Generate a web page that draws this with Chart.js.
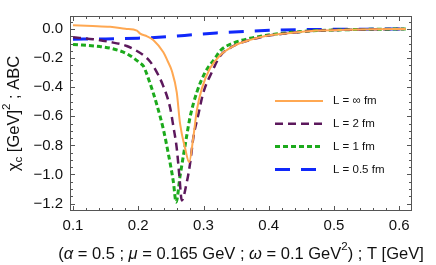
<!DOCTYPE html>
<html>
<head>
<meta charset="utf-8">
<script src="https://cdn.jsdelivr.net/npm/chart.js@4/dist/chart.umd.min.js"></script>
<style>
  html, body { margin: 0; padding: 0; background: #fff; }
</style>
</head>
<body>
<canvas id="chiChart" width="436" height="265"></canvas>
<script>
// series labels
var seriesLabels = ['L = \u221e fm', 'L = 2 fm', 'L = 1 fm', 'L = 0.5 fm'];

// L = infinity
var tInf   = [0.100, 0.130, 0.157, 0.180, 0.198, 0.203, 0.2135, 0.223, 0.2385, 0.245, 0.2514, 0.259, 0.264, 0.2718, 0.278, 0.2845, 0.2897, 0.2974, 0.310, 0.3255, 0.346, 0.3715, 0.397, 0.428, 0.474, 0.520, 0.560, 0.610];
var chiInf = [0.026, 0.021, 0.015, 0.002, -0.011, -0.032, -0.050, -0.075, -0.160, -0.220, -0.287, -0.436, -0.649, -0.820, -0.915, -0.740, -0.560, -0.410, -0.270, -0.180, -0.117, -0.075, -0.047, -0.030, -0.011, -0.005, -0.002, 0.000];

// L = 2 fm
var tL2   = [0.100, 0.131, 0.155, 0.1824, 0.2078, 0.218, 0.2258, 0.2385, 0.2488, 0.2538, 0.259, 0.263, 0.2667, 0.2744, 0.2794, 0.2845, 0.2922, 0.2998, 0.3127, 0.3255, 0.346, 0.3715, 0.397, 0.428, 0.474, 0.520, 0.560, 0.610];
var chiL2 = [-0.057, -0.070, -0.088, -0.117, -0.180, -0.223, -0.276, -0.394, -0.540, -0.670, -0.820, -1.010, -1.178, -1.053, -0.925, -0.745, -0.585, -0.436, -0.298, -0.185, -0.117, -0.075, -0.047, -0.030, -0.011, -0.005, -0.002, 0.000];

// L = 1 fm
var tL1   = [0.100, 0.1414, 0.160, 0.1824, 0.2028, 0.2078, 0.218, 0.2284, 0.2385, 0.2462, 0.2538, 0.258, 0.2641, 0.2718, 0.2794, 0.2897, 0.3025, 0.3178, 0.3255, 0.346, 0.3715, 0.397, 0.428, 0.474, 0.520, 0.560, 0.610];
var chiL1 = [-0.106, -0.121, -0.135, -0.170, -0.234, -0.255, -0.372, -0.520, -0.690, -0.860, -1.050, -1.190, -1.010, -0.800, -0.606, -0.436, -0.298, -0.200, -0.150, -0.096, -0.064, -0.043, -0.026, -0.011, -0.005, -0.002, 0.000];

// L = 0.5 fm
var tL05   = [0.100, 0.150, 0.200, 0.245, 0.285, 0.320, 0.370, 0.410, 0.450, 0.500, 0.550, 0.610];
var chiL05 = [-0.070, -0.068, -0.063, -0.053, -0.039, -0.027, -0.015, -0.007, -0.004, -0.002, -0.001, 0.000];

// axis ticks
var xTicks = [0.1, 0.2, 0.3, 0.4, 0.5, 0.6];
var yTicks = [0.0, -0.2, -0.4, -0.6, -0.8, -1.0, -1.2];

var FONT = '"Liberation Sans", Arial, sans-serif';

function toPoints(ts, vs) {
    return ts.map(function (t, i) { return { x: t, y: vs[i] }; });
}

function makeSet(label, ts, vs, color, width, dash) {
    return {
        label: label,
        data: toPoints(ts, vs),
        borderColor: color,
        borderWidth: width,
        borderDash: dash,
        pointRadius: 0,
        fill: false,
        cubicInterpolationMode: 'monotone'
    };
}

// draws a run of text pieces; each piece {t, italic, small, shift}
function drawRuns(ctx, runs, size) {
    var x = 0;
    runs.forEach(function (r) {
        var s = r.small ? size * 0.7 : size;
        ctx.font = (r.italic ? 'italic ' : '') + s + 'px ' + FONT;
        ctx.fillText(r.t, x, r.shift || 0);
        x += ctx.measureText(r.t).width;
    });
}
function runsWidth(ctx, runs, size) {
    var w = 0;
    runs.forEach(function (r) {
        var s = r.small ? size * 0.7 : size;
        ctx.font = (r.italic ? 'italic ' : '') + s + 'px ' + FONT;
        w += ctx.measureText(r.t).width;
    });
    return w;
}

var framePlugin = {
    id: 'frame',
    afterDraw: function (chart) {
        var ctx = chart.ctx, a = chart.chartArea;
        var xs = chart.scales.x, ys = chart.scales.y;
        ctx.save();

        // frame
        ctx.strokeStyle = '#555';
        ctx.lineWidth = 1;
        ctx.strokeRect(a.left + 0.5, a.top + 0.5, a.right - a.left - 1, a.bottom - a.top - 1);

        // inward ticks, major and minor, on all sides
        ctx.beginPath();
        var v, px, len;
        for (var i = 4; i <= 31; i++) {
            v = i * 0.02;
            px = Math.round(xs.getPixelForValue(v)) + 0.5;
            if (px <= a.left + 1 || px >= a.right - 1) continue;
            len = (i % 5 === 0) ? 5 : 3;
            ctx.moveTo(px, a.bottom); ctx.lineTo(px, a.bottom - len);
            ctx.moveTo(px, a.top); ctx.lineTo(px, a.top + len);
        }
        for (var j = -25; j <= 1; j++) {
            v = j * 0.05;
            px = Math.round(ys.getPixelForValue(v)) + 0.5;
            if (px <= a.top + 1 || px >= a.bottom - 1) continue;
            len = (j % 4 === 0) ? 5 : 3;
            ctx.moveTo(a.left, px); ctx.lineTo(a.left + len, px);
            ctx.moveTo(a.right, px); ctx.lineTo(a.right - len, px);
        }
        ctx.stroke();

        // legend
        chart.data.datasets.forEach(function (ds, k) {
            var ly = 101 + k * 22.8;
            ctx.save();
            ctx.strokeStyle = ds.borderColor;
            ctx.lineWidth = ds.borderWidth;
            ctx.setLineDash(ds.borderDash || []);
            ctx.beginPath();
            ctx.moveTo(275, ly);
            ctx.lineTo(323, ly);
            ctx.stroke();
            ctx.restore();
            ctx.fillStyle = '#111';
            ctx.font = '11.5px ' + FONT;
            ctx.textBaseline = 'middle';
            ctx.textAlign = 'left';
            ctx.fillText(ds.label, 333, ly);
        });

        // axis titles
        ctx.fillStyle = '#111';
        ctx.textBaseline = 'middle';
        ctx.textAlign = 'left';
        var yRuns = [
            { t: '\u03c7' },
            { t: 'c', small: true, shift: 5 },
            { t: ' [GeV]' },
            { t: '2', small: true, shift: -7 },
            { t: ' ; ABC' }
        ];
        var yw = runsWidth(ctx, yRuns, 16.5);
        ctx.save();
        ctx.translate(14, (a.top + a.bottom) / 2);
        ctx.rotate(-Math.PI / 2);
        ctx.translate(-yw / 2, 0);
        drawRuns(ctx, yRuns, 16.5);
        ctx.restore();

        var xRuns = [
            { t: '(' },
            { t: '\u03b1', italic: true },
            { t: ' = 0.5 ; ' },
            { t: '\u03bc', italic: true },
            { t: ' = 0.165 GeV ; ' },
            { t: '\u03c9', italic: true },
            { t: ' = 0.1 GeV' },
            { t: '2', small: true, shift: -7 },
            { t: ') ; T [GeV]' }
        ];
        var xw = runsWidth(ctx, xRuns, 16.5);
        ctx.save();
        ctx.translate((a.left + a.right) / 2 - xw / 2, 254);
        drawRuns(ctx, xRuns, 16.5);
        ctx.restore();

        ctx.restore();
    }
};

var ctx = document.getElementById('chiChart').getContext('2d');
new Chart(ctx, {
    type: 'line',
    data: {
        datasets: [
            makeSet(seriesLabels[0], tInf, chiInf, 'rgb(255,168,82)', 2, []),
            makeSet(seriesLabels[1], tL2, chiL2, 'rgb(92,24,92)', 2.5, [8, 5]),
            makeSet(seriesLabels[2], tL1, chiL1, 'rgb(28,170,28)', 3, [5, 3]),
            makeSet(seriesLabels[3], tL05, chiL05, 'rgb(16,40,250)', 3, [15, 11])
        ]
    },
    options: {
        responsive: false,
        animation: false,
        layout: { padding: { top: 1, right: 24, left: 0, bottom: 0 } },
        plugins: { legend: { display: false }, tooltip: { enabled: false } },
        scales: {
            x: {
                type: 'linear',
                min: 0.0954,
                max: 0.6195,
                grid: { display: false, drawTicks: false },
                border: { display: false },
                afterBuildTicks: function (s) { s.ticks = xTicks.map(function (v) { return { value: v }; }); },
                afterFit: function (s) { s.height = 54; },
                ticks: {
                    padding: 6,
                    color: '#111',
                    font: { family: FONT, size: 15 },
                    maxRotation: 0,
                    autoSkip: false,
                    callback: function (v) { return v.toFixed(1); }
                }
            },
            y: {
                type: 'linear',
                min: -1.251,
                max: 0.0894,
                grid: { display: false, drawTicks: false },
                border: { display: false },
                afterBuildTicks: function (s) { s.ticks = yTicks.map(function (v) { return { value: v }; }); },
                afterFit: function (s) { s.width = 70; },
                ticks: {
                    padding: 7,
                    color: '#111',
                    font: { family: FONT, size: 15 },
                    autoSkip: false,
                    callback: function (v) { return v.toFixed(1).replace('-', '\u2212'); }
                }
            }
        }
    },
    plugins: [framePlugin]
});
</script>
</body>
</html>
